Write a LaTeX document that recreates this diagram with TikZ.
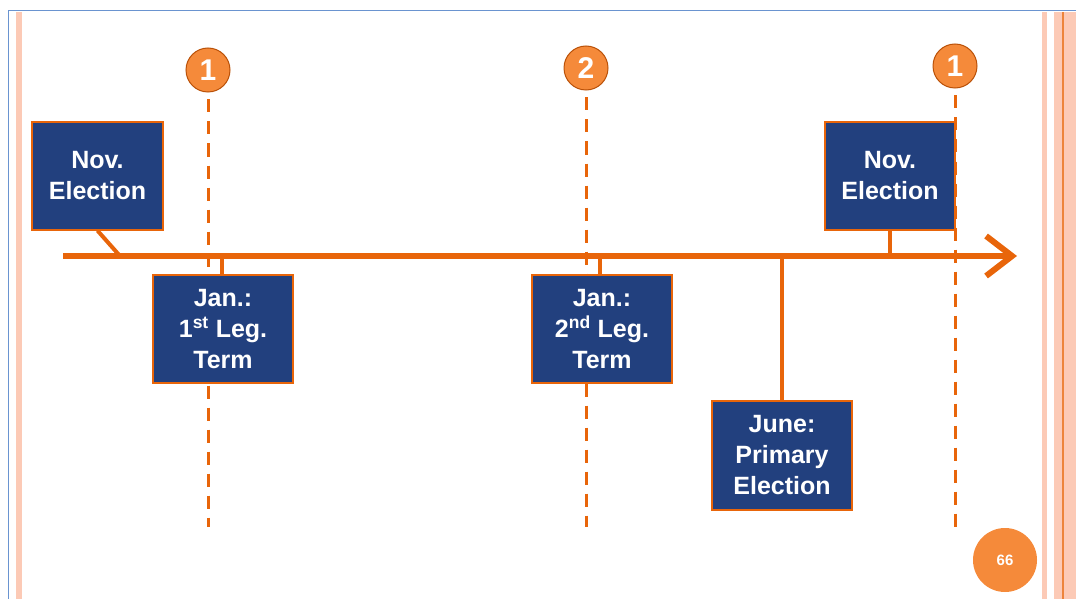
\documentclass[tikz,border=0pt]{standalone}
\usepackage{fontspec}
\setmainfont{Liberation Sans}
\usetikzlibrary{arrows.meta}
\definecolor{navy}{HTML}{22407E}
\definecolor{lineorange}{HTML}{E8650A}
\definecolor{dotorange}{HTML}{F58A3A}
\definecolor{stripe}{HTML}{FCCAB6}
\definecolor{framblue}{HTML}{6A94D0}
\tikzset{eventbox/.style={draw=lineorange,line width=1.2pt,fill=navy,text=white,
   font=\bfseries\fontsize{25}{31}\selectfont,align=center,inner sep=0pt},
 marker/.style={circle,draw=lineorange!80!black,line width=1pt,fill=dotorange,
   text=white,font=\bfseries\fontsize{30}{30}\selectfont,minimum size=44pt,inner sep=0pt},
 guide/.style={draw=lineorange,line width=3pt,dash pattern=on 13pt off 9pt},
 stem/.style={draw=lineorange,line width=4pt},
 }

\begin{document}
\begin{tikzpicture}[x=1pt,y=-1pt]
        \useasboundingbox (0,0) rectangle (1076,599);
        % frame and side stripes
        \draw[framblue,line width=1.5pt] (8.5,599) -- (8.5,10.5) -- (1076,10.5);
        \fill[stripe] (16,12) rectangle (22,599);
        \fill[stripe] (1042,12) rectangle (1047,599);
        \fill[stripe] (1054,12) rectangle (1076,599);
        \draw[lineorange!80,line width=2pt] (1063,12) -- (1063,599);
        % markers and guides
        \node[marker] (m1) at (208,70) {1};
        \node[marker] (m2) at (586,68) {2};
        \node[marker] (m3) at (955,66) {1};
        \coordinate (g1) at (208,527);
        \coordinate (g2) at (586,527);
        \coordinate (g3) at (955,527);
        \draw[guide] ([yshift=-7pt]m1.south) -- (g1);
        \draw[guide] ([yshift=-7pt]m2.south) -- (g2);
        \draw[guide] ([yshift=-7pt]m3.south) -- (g3);
        % time line
        \coordinate (start) at (63,256);
        \coordinate (end) at (1017,256);
        \draw[lineorange,line width=6pt,-{Straight Barb[length=26pt,width=40pt]}] (start) -- (end);
        % events
        \node[eventbox,minimum width=131pt,minimum height=108pt] (nov1) at (97.5,176) {Nov.\\Election};
        \node[eventbox,minimum width=140pt,minimum height=108pt] (jan1) at (223,329) {Jan.:\\1\textsuperscript{st} Leg.\\Term};
        \node[eventbox,minimum width=140pt,minimum height=108pt] (jan2) at (602,329) {Jan.:\\2\textsuperscript{nd} Leg.\\Term};
        \node[eventbox,minimum width=140pt,minimum height=109pt] (june) at (782,455.5) {June:\\Primary\\Election};
        \node[eventbox,minimum width=130pt,minimum height=108pt] (nov2) at (890,176) {Nov.\\Election};
        \coordinate (t1) at (120,256);
        \coordinate (t2) at (222,256);
        \coordinate (t3) at (600,256);
        \coordinate (t4) at (782,256);
        \coordinate (t5) at (890,256);
        \draw[stem] (nov1.south) -- (t1);
        \draw[stem] (t2) -- (jan1.north -| t2);
        \draw[stem] (t3) -- (jan2.north -| t3);
        \draw[stem] (t4) -- (june.north);
        \draw[stem] (nov2.south) -- (t5);
        % page number
        \node[circle,fill=dotorange,text=white,font=\bfseries\fontsize{15}{15}\selectfont,
          minimum size=64pt,inner sep=0pt] (page) at (1005,560) {66};
    \end{tikzpicture}
\end{document}
